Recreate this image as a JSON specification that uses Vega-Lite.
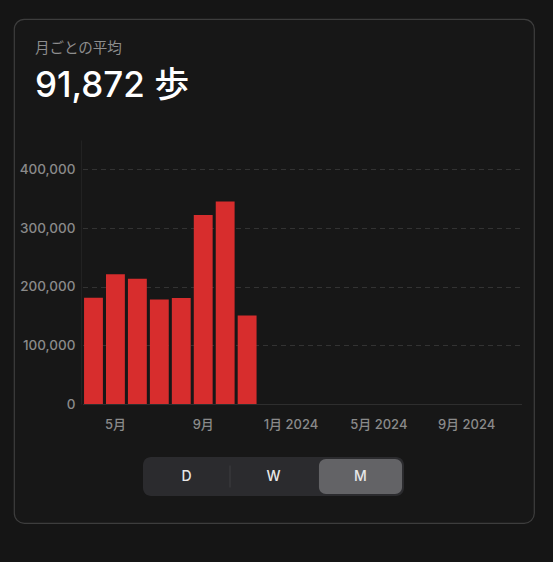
{
  "$schema": "https://vega.github.io/schema/vega-lite/v6.json",
  "width": 520,
  "height": 504,
  "autosize": "none",
  "padding": {"left": 14, "top": 19, "right": 19, "bottom": 39},
  "background": "#151515",
  "view": {"fill": "#171717", "stroke": "#3d3d3d", "strokeWidth": 1.2, "cornerRadius": 10},
  "title": {
    "text": "月ごとの平均",
    "subtitle": "91,872 歩",
    "anchor": "start",
    "frame": "group",
    "orient": "top",
    "offset": -86,
    "dx": 21,
    "font": "Noto Sans CJK JP",
    "fontSize": 14.5,
    "fontWeight": 400,
    "color": "#8e8e8e",
    "subtitleFont": "Inter, Noto Sans CJK JP",
    "subtitleFontSize": 35,
    "subtitleFontWeight": 500,
    "subtitleColor": "#ffffff",
    "subtitlePadding": 13
  },
  "datasets": {
    "steps": [
      {"month": "2023-04", "steps": 181000},
      {"month": "2023-05", "steps": 221000},
      {"month": "2023-06", "steps": 213500},
      {"month": "2023-07", "steps": 178000},
      {"month": "2023-08", "steps": 180500},
      {"month": "2023-09", "steps": 322000},
      {"month": "2023-10", "steps": 345000},
      {"month": "2023-11", "steps": 151000}
    ],
    "segments": [
      {"seg": "D", "row": "picker", "selected": false},
      {"seg": "W", "row": "picker", "selected": false},
      {"seg": "M", "row": "picker", "selected": true}
    ]
  },
  "layer": [
    {
      "data": {"name": "steps"},
      "mark": {"type": "bar", "color": "#d72d2d"},
      "encoding": {
        "x": {
          "field": "month",
          "type": "ordinal",
          "scale": {
            "domain": ["2023-04", "2023-05", "2023-06", "2023-07", "2023-08", "2023-09", "2023-10", "2023-11", "2023-12",
                       "2024-01", "2024-02", "2024-03", "2024-04", "2024-05", "2024-06", "2024-07", "2024-08", "2024-09",
                       "2024-10", "2024-11"],
            "range": [68.5, 507.5],
            "paddingInner": 0.14,
            "paddingOuter": 0.07
          },
          "axis": {
            "title": null,
            "offset": -119,
            "ticks": false,
            "tickSize": 0,
            "domain": true,
            "domainColor": "#2e2e2e",
            "labelAngle": 0,
            "labelPadding": 14,
            "labelFont": "Inter, Noto Sans CJK JP",
            "labelFontSize": 13,
            "labelFontWeight": 500,
            "labelColor": "#8a8a8a",
            "labelExpr": "datum.value == '2023-05' ? '5月' : datum.value == '2023-09' ? '9月' : datum.value == '2024-01' ? '1月 2024' : datum.value == '2024-05' ? '5月 2024' : datum.value == '2024-09' ? '9月 2024' : ''"
          }
        },
        "y": {
          "field": "steps",
          "type": "quantitative",
          "scale": {"domain": [0, 450000], "range": [385, 121], "nice": false},
          "axis": {
            "title": null,
            "offset": -67,
            "values": [0, 100000, 200000, 300000, 400000],
            "format": ",d",
            "ticks": false,
            "tickSize": 0,
            "domainColor": "#222222",
            "labelPadding": 6,
            "labelFont": "Inter",
            "labelFontSize": 13.5,
            "labelFontWeight": 500,
            "labelColor": "#8a8a8a",
            "grid": true,
            "gridColor": "#333333",
            "gridDash": [5, 4],
            "gridWidth": 1
          }
        }
      }
    },
    {
      "data": {"name": "segments"},
      "encoding": {
        "x": {
          "field": "seg",
          "type": "nominal",
          "sort": null,
          "scale": {"domain": ["D", "W", "M"], "range": [129, 390], "paddingInner": 0, "paddingOuter": 0},
          "axis": null
        },
        "y": {
          "field": "row",
          "type": "nominal",
          "scale": {"domain": ["picker"], "range": [438, 477], "paddingInner": 0, "paddingOuter": 0},
          "axis": null
        }
      },
      "layer": [
        {
          "transform": [{"filter": "datum.seg == 'D'"}],
          "mark": {"type": "bar", "color": "#2b2b2e", "cornerRadiusTopLeft": 8, "cornerRadiusBottomLeft": 8}
        },
        {
          "transform": [{"filter": "datum.seg == 'W'"}],
          "mark": {"type": "bar", "color": "#2b2b2e"}
        },
        {
          "transform": [{"filter": "datum.seg == 'M'"}],
          "mark": {"type": "bar", "color": "#2b2b2e", "cornerRadiusTopRight": 8, "cornerRadiusBottomRight": 8}
        },
        {
          "transform": [{"filter": "datum.selected"}],
          "mark": {"type": "bar", "color": "#636366", "cornerRadius": 7, "width": {"band": 0.955}, "height": {"band": 0.9}}
        },
        {
          "transform": [{"filter": "datum.seg == 'D'"}],
          "mark": {"type": "tick", "orient": "vertical", "color": "#48484a", "thickness": 1, "size": 22},
          "encoding": {"x": {"field": "seg", "type": "nominal", "bandPosition": 1}}
        },
        {
          "mark": {"type": "text", "font": "Inter", "fontSize": 14, "fontWeight": 500, "color": "#e8e8e8"},
          "encoding": {"text": {"field": "seg"}}
        }
      ]
    }
  ],
  "resolve": {"scale": {"x": "independent", "y": "independent"}}
}
